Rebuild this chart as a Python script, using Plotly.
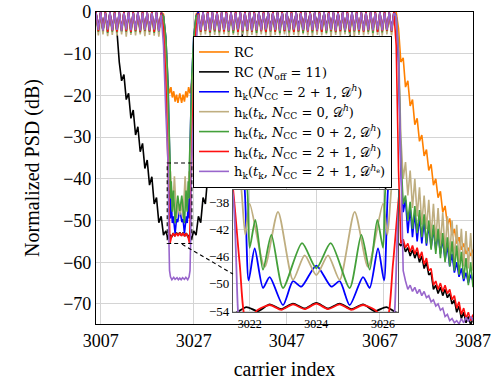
import numpy as np
import plotly.graph_objects as go

# carrier grids (band left of the notch, band right of the notch, roll-off tail)
x_l = np.arange(3006.0, 3020.01, 0.5)
x_r = np.arange(3028.0, 3070.01, 0.5)
x_t = np.arange(3070.5, 3087.01, 0.5)

# ---- RC (orange)
orange_l = [0, -4.1, -0.1, -4.4, 0, -4.2, -0.1, -4.5, 0, -4.3,
            -0.1, -4.2, 0, -4.6, -0.1, -4.3, 0, -4.4, -0.1, -4.2,
            0, -4.5, -0.1, -4.3, 0, -4.4, -0.1, -4.2, 0]
orange_nx = [3020.5, 3020.9, 3021.2, 3021.5, 3021.8, 3022.1, 3022.4, 3022.7, 3023.0, 3023.3, 3023.6, 3024.0,
             3024.4, 3024.7, 3025.0, 3025.3, 3025.6, 3025.9, 3026.2, 3026.5, 3026.8, 3027.1, 3027.5]
orange_ny = [-0.5, -6, -15, -17.5, -19.5, -18, -20.5, -19, -21.5, -19.8, -21.8, -19.5,
             -21.8, -19.8, -21.5, -19, -20.5, -18, -19.5, -17.5, -15, -6, -0.5]
orange_r = [0, -4.3, -0.1, -4.2, 0, -4.5, -0.1, -4.3, 0, -4.4,
            -0.1, -4.2, 0, -4.6, -0.1, -4.3, 0, -4.1, -0.1, -4.4,
            0, -4.3, -0.1, -4.5, 0, -4.2, -0.1, -4.4, 0, -4.3,
            -0.1, -4.1, 0, -4.4, -0.1, -4.6, 0, -4.2, -0.1, -4.3,
            0, -4.5, -0.1, -4.3, 0, -4.2, -0.1, -4.4, 0, -4.3,
            -0.1, -4.5, 0, -4.2, -0.1, -4.4, 0, -4.3, -0.1, -4.6,
            0, -4.2, -0.1, -4.4, 0, -4.3, -0.1, -4.5, 0, -4.2,
            -0.1, -4.4, 0, -4.3, -0.1, -4.5, 0, -4.2, -0.1, -4.4,
            0, -4.3, -0.1, -4.5, 0]
orange_t = [0, -4, -12, -11, -18, -16.5, -22.5, -21, -27, -25.5,
            -31, -29.5, -34.5, -33, -38, -36.5, -41.5, -40, -44.5, -43,
            -48, -46.5, -51, -49.5, -53.5, -52, -55.5, -54, -57, -55.5,
            -58, -56.5, -58.5, -57]

# ---- RC (N_off = 11) (black)
black_l = [-0.3, -4.1, -0.2, -4.3, -0.3, -4.2, -0.4, -4.4, -0.9, -4.6,
           -12, -16.5, -15, -21, -19.5, -25.5, -23.5, -29.5, -27.5, -33.5,
           -31.5, -37.5, -35.5, -41.5, -39.5, -46, -44.5, -50.5, -49]
black_nx = [3020.5, 3021.0, 3021.5, 3021.9, 3022.25, 3022.6, 3022.95, 3023.3, 3023.65, 3024.0,
            3024.35, 3024.7, 3025.05, 3025.4, 3025.75, 3026.1, 3026.5, 3027.0, 3027.5]
black_ny = [-53.5, -52.5, -54.4, -53.4, -54.0, -53.0, -53.7, -52.9, -53.6, -52.8,
            -53.6, -52.9, -53.7, -53.0, -54.0, -53.4, -54.4, -52.5, -53.5]
black_r = [-49, -50.5, -44.5, -46, -39.5, -41.5, -35.5, -37.5, -31.5, -33.5,
           -27.5, -29.5, -23.5, -25.5, -19.5, -21, -15, -16.5, -12, -4.6,
           -0.9, -4.4, -0.4, -4.2, -0.3, -4.3, -0.2, -4.1, -0.3, -4.3,
           -0.2, -4.2, -0.3, -4.4, -0.2, -4.1, -0.3, -4.3, -0.2, -4.2,
           -0.3, -4.4, -0.2, -4.1, -0.3, -4.3, -0.2, -4.2, -0.3, -4.4,
           -0.2, -4.1, -0.3, -4.3, -0.2, -4.2, -0.3, -4.4, -0.2, -4.3,
           -0.3, -4.2, -0.4, -4.4, -0.9, -4.6, -12, -16.5, -15, -21,
           -19.5, -25.5, -23.5, -29.5, -27.5, -33.5, -31.5, -37.5, -35.5, -41.5,
           -39.5, -46, -44.5, -50.5, -49]
black_t = [-53.5, -55.5, -56, -55.5, -57.5, -56.5, -58.5, -57, -59, -57.5,
           -60, -58.5, -61.5, -60, -63, -62.5, -66.5, -65.5, -67.5, -66,
           -68, -66.5, -68.5, -67.5, -70, -69, -72, -70.5, -73.5, -72,
           -74.5, -73, -75, -73.5]

# ---- h_k(N_CC = 2+1, D^h) (blue)
blue_l = [0, -4.4, 0, -4.6, -0.1, -4.3, 0, -4.5, 0, -4.4,
          -0.1, -4.7, 0, -4.3, 0, -4.5, -0.1, -4.4, 0, -4.6,
          0, -4.3, -0.1, -4.5, 0, -4.4, 0, -4.6, -0.2]
blue_nx = [3020.5, 3021.0, 3021.5, 3021.85, 3021.97, 3022.15, 3022.4, 3022.6, 3023.0, 3023.3, 3023.55, 3024.0,
           3024.45, 3024.7, 3025.0, 3025.4, 3025.6, 3025.85, 3026.03, 3026.15, 3026.5, 3027.0, 3027.5]
blue_ny = [-1, -6, -18, -36, -49.5, -44.8, -50.6, -49.0, -53.1, -49.6, -50.4, -47.3,
           -50.4, -49.6, -53.1, -49.0, -50.6, -44.8, -49.5, -36, -18, -6, -1]
blue_r = [0, -4.5, 0, -4.3, -0.1, -4.6, 0, -4.4, 0, -4.5,
          -0.1, -4.3, 0, -4.7, 0, -4.4, -0.1, -4.5, 0, -4.3,
          0, -4.6, -0.1, -4.4, 0, -4.5, 0, -4.3, -0.1, -4.7,
          0, -4.4, 0, -4.5, -0.1, -4.3, 0, -4.6, 0, -4.4,
          -0.1, -4.5, 0, -4.3, 0, -4.7, -0.1, -4.4, 0, -4.5,
          0, -4.3, -0.1, -4.6, 0, -4.4, 0, -4.5, -0.1, -4.3,
          0, -4.7, 0, -4.4, -0.1, -4.5, 0, -4.3, 0, -4.6,
          -0.1, -4.4, 0, -4.5, 0, -4.3, -0.1, -4.7, 0, -4.4,
          0, -4.5, -0.1, -4.3, 0]
blue_t = [-1, -12, -38, -48, -45, -53, -47, -54, -48, -55,
          -49, -55.5, -50, -56, -51, -56.5, -52, -57, -53, -58,
          -54.5, -59.5, -56, -61, -58, -62.5, -60, -63.5, -61.5, -64.5,
          -62.5, -65, -63, -64.5]

# ---- h_k(t_k, N_CC = 0, D^h) (tan)
tan_l = [-0.5, -5.6, -0.6, -5.4, -0.5, -5.8, -0.7, -5.5, -0.5, -5.7,
         -0.6, -5.4, -0.5, -5.9, -0.6, -5.5, -0.5, -5.6, -0.7, -5.4,
         -0.5, -5.8, -0.6, -5.5, -0.5, -5.7, -0.6, -5.9, -1.0]
tan_nx = [3020.5, 3021.0, 3021.4, 3021.75, 3021.87, 3022.0, 3022.45, 3022.85, 3023.3, 3023.65, 3024.0,
          3024.35, 3024.7, 3025.15, 3025.55, 3026.0, 3026.13, 3026.25, 3026.6, 3027.0, 3027.5]
tan_ny = [-1.5, -8, -20, -36, -42.8, -38.2, -47.5, -39.4, -49.4, -45.8, -48.7,
          -45.8, -49.4, -39.4, -47.5, -38.2, -42.8, -36, -20, -8, -1.5]
tan_r = [-1.0, -5.6, -0.6, -5.4, -0.5, -5.8, -0.6, -5.5, -0.5, -5.7,
         -0.7, -5.4, -0.5, -5.9, -0.6, -5.5, -0.5, -5.6, -0.6, -5.4,
         -0.5, -5.8, -0.7, -5.5, -0.5, -5.7, -0.6, -5.4, -0.5, -5.6,
         -0.6, -5.9, -0.5, -5.5, -0.7, -5.6, -0.5, -5.4, -0.6, -5.8,
         -0.5, -5.5, -0.6, -5.7, -0.5, -5.4, -0.7, -5.6, -0.5, -5.9,
         -0.6, -5.5, -0.5, -5.6, -0.6, -5.4, -0.5, -5.8, -0.7, -5.5,
         -0.5, -5.7, -0.6, -5.4, -0.5, -5.6, -0.6, -5.9, -0.5, -5.5,
         -0.7, -5.6, -0.5, -5.4, -0.6, -5.8, -0.5, -5.5, -0.6, -5.7,
         -0.5, -5.4, -0.6, -5.6, -0.8]
tan_t = [-1, -8, -30, -40, -36, -44, -38, -47, -40, -49,
         -42, -51, -44, -52, -45, -54, -46, -55, -47, -56,
         -48, -57.5, -49, -58.5, -50, -59.5, -51, -60, -52, -61,
         -52.5, -61.5, -53, -62]

# ---- h_k(t_k, N_CC = 0+2, D^h) (green)
green_l = [-0.2, -4.8, -0.3, -4.6, -0.2, -5.0, -0.3, -4.7, -0.2, -4.9,
           -0.3, -4.6, -0.2, -4.8, -0.3, -5.0, -0.2, -4.7, -0.3, -4.9,
           -0.2, -4.6, -0.3, -4.8, -0.2, -5.0, -0.3, -4.7, -0.5]
green_nx = [3020.5, 3021.0, 3021.4, 3021.7, 3021.93, 3022.0, 3022.17, 3022.4, 3022.65, 3023.0, 3023.57, 3024.0,
            3024.43, 3025.0, 3025.35, 3025.6, 3025.83, 3026.0, 3026.07, 3026.3, 3026.6, 3027.0, 3027.5]
green_ny = [-1, -6, -15, -28, -36, -44.7, -40.6, -47.9, -42.8, -50.6, -44.0, -47.7,
            -44.0, -50.6, -42.8, -47.9, -40.6, -44.7, -36, -28, -15, -6, -1]
green_r = [-0.5, -4.8, -0.2, -4.6, -0.3, -5.0, -0.2, -4.7, -0.3, -4.9,
           -0.2, -4.5, -0.3, -4.8, -0.2, -5.1, -0.3, -4.7, -0.2, -4.9,
           -0.3, -4.6, -0.2, -4.8, -0.3, -5.0, -0.2, -4.6, -0.3, -4.9,
           -0.2, -4.7, -0.3, -4.8, -0.2, -5.1, -0.3, -4.6, -0.2, -4.9,
           -0.3, -4.7, -0.2, -4.8, -0.3, -5.0, -0.2, -4.6, -0.3, -4.9,
           -0.2, -4.5, -0.3, -4.8, -0.2, -5.0, -0.3, -4.7, -0.2, -4.9,
           -0.3, -4.6, -0.2, -4.8, -0.3, -5.1, -0.2, -4.7, -0.3, -4.9,
           -0.2, -4.6, -0.3, -4.8, -0.2, -5.0, -0.3, -4.7, -0.2, -4.9,
           -0.3, -4.6, -0.2, -4.8, -0.3]
green_t = [-1, -10, -35, -46, -44, -50, -45.5, -52, -46.5, -53,
           -47.5, -54, -48.5, -55.5, -50, -57, -51, -58, -52, -59,
           -53, -60, -54, -61, -55, -62, -56, -63, -57.5, -64,
           -59, -65.5, -60, -66]

# ---- h_k(t_k, N_CC = 2+1, D^h) (red)
red_l = [0, -4.6, -0.1, -4.4, 0, -4.8, -0.1, -4.5, 0, -4.7,
         -0.1, -4.4, 0, -4.6, -0.1, -4.8, 0, -4.5, -0.1, -4.7,
         0, -4.4, -0.1, -4.6, 0, -4.8, -0.1, -4.5, -0.3]
red_nx = [3020.5, 3021.0, 3021.5, 3021.7, 3021.9, 3022.25, 3022.6, 3022.95, 3023.3, 3023.65, 3024.0,
          3024.35, 3024.7, 3025.05, 3025.4, 3025.75, 3026.1, 3026.3, 3026.5, 3027.0, 3027.5]
red_ny = [-4, -16, -36, -47, -55.5, -53.8, -53.1, -53.8, -53.0, -53.7, -52.9,
          -53.7, -53.0, -53.8, -53.1, -53.8, -55.5, -47, -36, -16, -4]
red_r = [-0.3, -4.7, -0.1, -4.5, 0, -4.8, -0.1, -4.4, 0, -4.6,
         -0.1, -4.7, 0, -4.5, -0.1, -4.4, 0, -4.8, -0.1, -4.6,
         0, -4.5, -0.1, -4.7, 0, -4.4, -0.1, -4.6, 0, -4.8,
         -0.1, -4.5, 0, -4.7, -0.1, -4.4, 0, -4.6, -0.1, -4.5,
         0, -4.8, -0.1, -4.6, 0, -4.4, -0.1, -4.7, 0, -4.5,
         -0.1, -4.6, 0, -4.8, -0.1, -4.4, 0, -4.5, -0.1, -4.7,
         0, -4.6, -0.1, -4.4, 0, -4.8, -0.1, -4.5, 0, -4.6,
         -0.1, -4.7, 0, -4.4, -0.1, -4.5, 0, -4.8, -0.1, -4.6,
         0, -4.5, -0.1, -4.7, 0]
red_t = [-8, -38, -55.5, -54.5, -56.5, -55.5, -57.5, -56, -58, -56.5,
         -59, -57.5, -60.5, -59, -62, -61.5, -65.5, -64.5, -66.5, -65,
         -67, -65.5, -67.5, -66.5, -69, -68, -71, -69.5, -72.5, -71,
         -73.5, -72, -74, -72.5]

# ---- h_k(t_k, N_CC = 2+1, D^he) (purple)
purple_l = [-0.2, -4.3, -0.1, -4.5, -0.2, -4.2, -0.1, -4.4, -0.2, -4.3,
            -0.1, -4.5, -0.2, -4.2, -0.1, -4.4, -0.2, -4.3, -0.1, -4.5,
            -0.2, -4.3, -0.1, -4.4, -0.2, -4.2, -0.1, -4.6, -0.6]
purple_nx = [3020.5, 3021.0, 3021.5, 3021.65, 3021.8, 3022.0, 3022.3, 3022.7, 3023.0, 3023.4, 3023.7, 3024.0,
             3024.3, 3024.6, 3025.0, 3025.3, 3025.7, 3026.0, 3026.2, 3026.35, 3026.5, 3027.0, 3027.5]
purple_ny = [-8, -24, -37, -54, -62, -63.5, -64.2, -63.6, -64.1, -63.7, -64.2, -63.8,
             -64.2, -63.7, -64.1, -63.6, -64.2, -63.5, -62, -54, -37, -24, -8]
purple_r = [-0.6, -4.4, -0.1, -4.3, -0.2, -4.5, -0.1, -4.2, -0.2, -4.4,
            -0.1, -4.3, -0.2, -4.5, -0.1, -4.3, -0.2, -4.2, -0.1, -4.4,
            -0.2, -4.3, -0.1, -4.5, -0.2, -4.3, -0.1, -4.4, -0.2, -4.2,
            -0.1, -4.4, -0.2, -4.3, -0.1, -4.5, -0.2, -4.3, -0.1, -4.4,
            -0.2, -4.2, -0.1, -4.4, -0.2, -4.3, -0.1, -4.5, -0.2, -4.3,
            -0.1, -4.4, -0.2, -4.2, -0.1, -4.4, -0.2, -4.3, -0.1, -4.5,
            -0.2, -4.3, -0.1, -4.4, -0.2, -4.2, -0.1, -4.4, -0.2, -4.3,
            -0.1, -4.5, -0.2, -4.3, -0.1, -4.4, -0.2, -4.2, -0.1, -4.4,
            -0.2, -4.3, -0.1, -4.5, -0.3]
purple_t = [-1, -10, -38, -62, -64.5, -66.5, -65.5, -67, -66, -67.5,
            -66.5, -68, -67, -68.5, -68, -69.5, -69, -70.5, -70, -71.5,
            -71, -73, -72.5, -74, -73.5, -74.5, -74, -74.8, -73.5, -74.5,
            -73.2, -74.2, -73, -74]

names = [
    "RC",
    "RC (<i>N</i><sub>off</sub> = 11)",
    "h<sub>k</sub>(<i>N</i><sub>CC</sub> = 2 + 1, 𝒟<sup><i>h</i></sup>)",
    "h<sub>k</sub>(<i>t</i><sub>k</sub>, <i>N</i><sub>CC</sub> = 0, 𝒟<sup><i>h</i></sup>)",
    "h<sub>k</sub>(<i>t</i><sub>k</sub>, <i>N</i><sub>CC</sub> = 0 + 2, 𝒟<sup><i>h</i></sup>)",
    "h<sub>k</sub>(<i>t</i><sub>k</sub>, <i>N</i><sub>CC</sub> = 2 + 1, 𝒟<sup><i>h</i></sup>)",
    "h<sub>k</sub>(<i>t</i><sub>k</sub>, <i>N</i><sub>CC</sub> = 2 + 1, 𝒟<sup><i>h</i><sub>e</sub></sup>)",
]
colors = ["#FF8000", "#000000", "#0000FF", "#BFAE80", "#44A03A", "#FF1010", "#9966CC"]

curves = [
    (orange_l, orange_nx, orange_ny, orange_r, orange_t),
    (black_l, black_nx, black_ny, black_r, black_t),
    (blue_l, blue_nx, blue_ny, blue_r, blue_t),
    (tan_l, tan_nx, tan_ny, tan_r, tan_t),
    (green_l, green_nx, green_ny, green_r, green_t),
    (red_l, red_nx, red_ny, red_r, red_t),
    (purple_l, purple_nx, purple_ny, purple_r, purple_t),
]

FONT = "Liberation Serif, DejaVu Serif, serif"
fig = go.Figure()

for (yl, nx, ny, yr, yt), name, col in zip(curves, names, colors):
    xs = list(x_l) + nx + list(x_r) + list(x_t)
    ys = yl + ny + yr + yt
    fig.add_trace(go.Scatter(x=xs, y=ys, mode="lines", name=name,
                             line=dict(color=col, width=1.6), xaxis="x", yaxis="y"))

# zoomed inset on the notch
for (yl, nx, ny, yr, yt), name, col in zip(curves, names, colors):
    xs = list(x_l) + nx + list(x_r) + list(x_t)
    ys = yl + ny + yr + yt
    fig.add_trace(go.Scatter(x=xs, y=ys, mode="lines", showlegend=False,
                             line=dict(color=col, width=1.8, shape="spline", smoothing=0.7),
                             xaxis="x2", yaxis="y2"))

grid = "#d4d4d4"
fig.update_layout(
    width=499, height=381,
    margin=dict(l=96, r=26, t=12, b=57),
    plot_bgcolor="white", paper_bgcolor="white",
    font=dict(family=FONT, color="black"),
    xaxis=dict(range=[3006.0, 3087], tickvals=[3007, 3027, 3047, 3067, 3087], automargin=False,
               showgrid=True, gridcolor=grid, gridwidth=1, zeroline=False,
               showline=True, linecolor="black", linewidth=1.2, mirror=True,
               tickfont=dict(size=18), title=dict(text="carrier index", font=dict(size=20), standoff=12)),
    yaxis=dict(range=[-74.8, 0], tickvals=[0, -10, -20, -30, -40, -50, -60, -70], automargin=False,
               showgrid=True, gridcolor=grid, gridwidth=1, zeroline=False,
               showline=True, linecolor="black", linewidth=1.2, mirror=True,
               tickfont=dict(size=18), title=dict(text="Normalized PSD (dB)", font=dict(size=20), standoff=18)),
    xaxis2=dict(domain=[0.3634, 0.8011], anchor="y2", range=[3021.5, 3026.45], tickvals=[3022, 3024, 3026],
                automargin=False, showgrid=True, gridcolor=grid, zeroline=False, showline=True,
                linecolor="#555555", linewidth=1.2, mirror=True, tickfont=dict(size=12)),
    yaxis2=dict(domain=[0.0369, 0.4295], anchor="x2", range=[-54.2, -36.2],
                tickvals=[-38, -42, -46, -50, -54], automargin=False,
                showgrid=True, gridcolor=grid, zeroline=False, showline=True, linecolor="#555555",
                linewidth=1.2, mirror=True, tickfont=dict(size=13)),
    legend=dict(x=0.2573, y=0.923, xanchor="left", yanchor="top",
                bgcolor="white", bordercolor="black", borderwidth=1,
                font=dict(family="DejaVu Serif, serif", size=13)),
    shapes=[
        dict(type="rect", xref="x", yref="y", x0=3021.3, x1=3026.6, y0=-55.5, y1=-36.2,
             line=dict(color="black", width=1.1, dash="4px,3px")),
        dict(type="line", xref="paper", yref="paper", x0=0.228, y0=0.256, x1=0.3634, y1=0.160,
             line=dict(color="black", width=1.1, dash="4px,3px")),
    ],
)

# drop the default 8px page margin so the figure fills the window exactly
fig.write_html("out.html", config={"displayModeBar": False},
               post_script="document.body.style.margin='0';")
